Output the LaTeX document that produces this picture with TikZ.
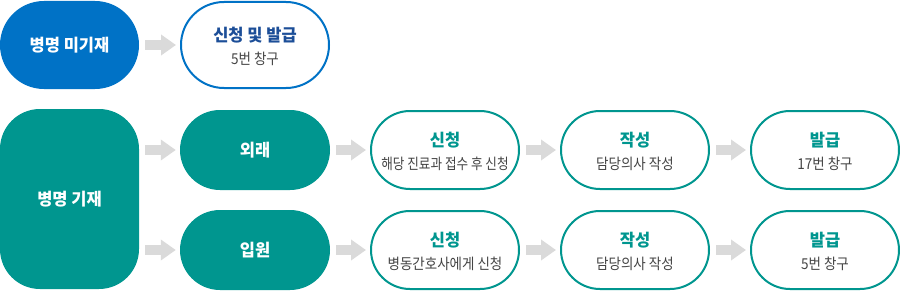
\documentclass[tikz,border=0pt]{standalone}
\usepackage{fontspec}
\usepackage{tikz}
\usetikzlibrary{arrows.meta,shapes.misc}
\newfontfamily\krttl{Noto Sans CJK KR}[FakeStretch=0.97]
\newfontfamily\krsub{Noto Sans CJK KR}[FakeStretch=0.90]
\newfontfamily\krsubn{Noto Sans CJK KR}[FakeStretch=0.84]
\definecolor{cblue}{RGB}{0,114,198}
\definecolor{cnavy}{RGB}{28,78,152}
\definecolor{cteal}{RGB}{0,150,143}
\definecolor{cgray}{RGB}{68,68,68}
\definecolor{carrow}{RGB}{218,218,218}
\newcommand{\pillW}{148}
\newcommand{\pillH}{78}
\newcommand{\ttlUp}{10}
\newcommand{\subDn}{14}
\tikzset{
  pill/.style   ={rounded rectangle,inner sep=0pt,minimum width=\pillW pt,minimum height=\pillH pt},
  ttl/.style    ={inner sep=0pt,font=\krttl\bfseries\fontsize{17}{19}\selectfont},
  sub/.style    ={inner sep=0pt,text=cgray,font=\krsub\fontsize{15}{17}\selectfont},
  bpill/.style  ={pill,fill=cblue,text=white,font=\krttl\bfseries\fontsize{17}{19}\selectfont,
                  minimum width=139pt,minimum height=88pt},
  tpill/.style  ={bpill,fill=cteal,minimum width=150pt,minimum height=80pt},
  tbox/.style   ={rectangle,fill=cteal,text=white,font=\krttl\bfseries\fontsize{17}{19}\selectfont,
                  rounded corners=40pt,inner sep=0pt,minimum width=139pt,minimum height=180pt},
  opill/.style  ={pill,line width=2pt,fill=white},
  oblue/.style  ={opill,draw=cblue,minimum height=86pt},
  oteal/.style  ={opill,draw=cteal},
  garr/.style   ={draw=carrow,line width=10pt,-{Triangle[length=15pt,width=20pt]},
                  shorten <=6pt,shorten >=4pt},
}
\newcommand{\steppill}[7]{%
  \node[#1] (#2) at (#3,#4) {};
  \node[ttl,text=#5] (#2t) at ([yshift=\ttlUp pt]#2.center) {#6};
  \node[sub] (#2s) at ([yshift=-\subDn pt]#2.center) {#7};
}

\begin{document}
\begin{tikzpicture}[x=1pt,y=1pt]
  \useasboundingbox (0,0) rectangle (900,290);
  % top row: not recorded
  \node[bpill] (nr) at (69.5,245) {병명 미기재};
  \steppill{oblue}{nra}{255}{245}{cnavy}{신청 및 발급}{5번 창구}
  \draw[garr] (nr.east) -- (nra.west);
  % recorded: outpatient and inpatient
  \node[tbox] (rc) at (69.5,91) {병명 기재};
  \node[tpill] (op) at (255,140) {외래};
  \node[tpill] (ip) at (255,40) {입원};
  \draw[garr] (rc.east |- op.west) -- (op.west);
  \draw[garr] (rc.east |- ip.west) -- (ip.west);
  \steppill{oteal}{opa}{445}{140}{cteal}{신청}{{\krsubn 해당 진료과 접수 후 신청}}
  \steppill{oteal}{opb}{635}{140}{cteal}{작성}{담당의사 작성}
  \steppill{oteal}{opc}{825}{140}{cteal}{발급}{17번 창구}
  \steppill{oteal}{ipa}{445}{40}{cteal}{신청}{병동간호사에게 신청}
  \steppill{oteal}{ipb}{635}{40}{cteal}{작성}{담당의사 작성}
  \steppill{oteal}{ipc}{825}{40}{cteal}{발급}{5번 창구}
  \draw[garr] (op.east) -- (opa.west);
  \draw[garr] (opa.east) -- (opb.west);
  \draw[garr] (opb.east) -- (opc.west);
  \draw[garr] (ip.east) -- (ipa.west);
  \draw[garr] (ipa.east) -- (ipb.west);
  \draw[garr] (ipb.east) -- (ipc.west);
\end{tikzpicture}
\end{document}
